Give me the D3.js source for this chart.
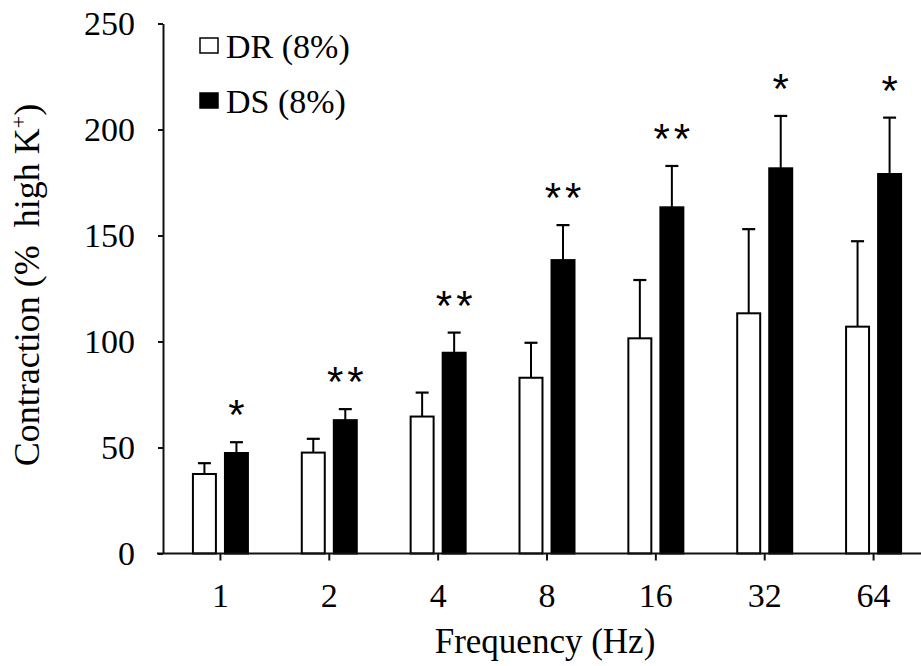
<!DOCTYPE html>
<html>
<head>
<meta charset="utf-8">
<script src="https://cdn.jsdelivr.net/npm/d3@7"></script>
<style>
  body { margin: 0; background: #fff; }
  svg { display: block; }
</style>
</head>
<body>
<svg id="chart" width="921" height="666"></svg>
<script>
const categories = ['1', '2', '4', '8', '16', '32', '64'];
const series = ['DR (8%)', 'DS (8%)'];
const drMean = [37.5, 47.6, 64.6, 82.9, 101.5, 113.3, 107];
const drErr = [5.1, 6.5, 11.3, 16.5, 27.5, 39.7, 40.3];
const dsMean = [47.4, 62.9, 94.7, 138.4, 163.3, 181.7, 179];
const dsErr = [5.1, 5.2, 9.5, 16.5, 19.5, 24.7, 26.6];
const marks = ['*', '**', '**', '**', '**', '*', '*'];
const yTicks = [0, 50, 100, 150, 200, 250];

const width = 921, height = 666;
const margin = { top: 23.5, left: 163, bottom: 112.5 };
const serif = 'Liberation Serif, Times New Roman, serif';

const svg = d3.select('#chart');

const x = d3.scaleBand()
    .domain(categories)
    .range([166, 928])
    .padding(0);

const xSub = d3.scaleBand()
    .domain(series)
    .range([-28.5, 28.5])
    .paddingInner(0.22);

const y = d3.scaleLinear()
    .domain([0, 250])
    .range([height - margin.bottom, margin.top]);

const rows = categories.map((c, i) => ({
    cat: c,
    bars: [
        { key: series[0], mean: drMean[i], err: drErr[i], fill: '#fff' },
        { key: series[1], mean: dsMean[i], err: dsErr[i], fill: '#000' }
    ],
    mark: marks[i]
}));

// error bars first so bar outline sits on top
const groups = svg.append('g')
    .selectAll('g')
    .data(rows)
    .join('g')
    .attr('transform', d => `translate(${x(d.cat) + x.bandwidth() / 2},0)`);

groups.selectAll('g.err')
    .data(d => d.bars)
    .join('g')
    .attr('class', 'err')
    .each(function (b) {
        const cx = xSub(b.key) + xSub.bandwidth() / 2;
        const g = d3.select(this);
        g.append('line')
            .attr('x1', cx).attr('x2', cx)
            .attr('y1', y(b.mean)).attr('y2', y(b.mean + b.err))
            .attr('stroke', '#000').attr('stroke-width', 2);
        g.append('line')
            .attr('x1', cx - 6.5).attr('x2', cx + 6.5)
            .attr('y1', y(b.mean + b.err)).attr('y2', y(b.mean + b.err))
            .attr('stroke', '#000').attr('stroke-width', 2.2);
    });

groups.selectAll('rect')
    .data(d => d.bars)
    .join('rect')
    .attr('x', b => xSub(b.key) + 1)
    .attr('width', xSub.bandwidth() - 2)
    .attr('y', b => y(b.mean))
    .attr('height', b => y(0) - y(b.mean))
    .attr('fill', b => b.fill)
    .attr('stroke', '#000')
    .attr('stroke-width', 2);

// significance marks over the DS bars
groups.append('text')
    .attr('x', d => xSub(series[1]) + xSub.bandwidth() / 2 + 2)
    .attr('y', d => y(d.bars[1].mean + d.bars[1].err) - 13)
    .attr('text-anchor', 'middle')
    .attr('font-family', 'Liberation Sans, Arial, sans-serif')
    .attr('font-size', 42)
    .attr('letter-spacing', 4)
    .text(d => d.mark);

// y axis
const yAxis = svg.append('g')
    .attr('transform', `translate(${margin.left},0)`)
    .call(d3.axisLeft(y).tickValues(yTicks).tickSize(5).tickSizeOuter(0).tickPadding(23));
yAxis.select('.domain').attr('stroke', '#111').attr('stroke-width', 2);
yAxis.selectAll('.tick line').attr('stroke', '#111').attr('stroke-width', 2);
yAxis.selectAll('text')
    .attr('font-family', serif)
    .attr('font-size', 34)
    .attr('fill', '#000');

// x axis
const xAxis = svg.append('g')
    .attr('transform', `translate(0,${y(0)})`)
    .call(d3.axisBottom(x).tickSize(7).tickPadding(22));
xAxis.select('.domain').remove();
xAxis.append('line')
    .attr('x1', margin.left - 6).attr('x2', width)
    .attr('stroke', '#111').attr('stroke-width', 2);
xAxis.selectAll('.tick line').attr('stroke', '#111').attr('stroke-width', 2);
xAxis.selectAll('text')
    .attr('font-family', serif)
    .attr('font-size', 34)
    .attr('fill', '#000');

// axis titles
svg.append('text')
    .attr('x', 545)
    .attr('y', 653)
    .attr('text-anchor', 'middle')
    .attr('font-family', serif)
    .attr('font-size', 35)
    .text('Frequency (Hz)');

const yTitle = svg.append('text')
    .attr('transform', 'translate(39,285) rotate(-90)')
    .attr('text-anchor', 'middle')
    .attr('font-family', serif)
    .attr('font-size', 36);
yTitle.append('tspan').text('Contraction (%\u00a0 high K');
yTitle.append('tspan').attr('font-size', 22).attr('dy', -13).text('+');
yTitle.append('tspan').attr('dy', 13).text(')');

// legend
const legend = svg.append('g')
    .selectAll('g')
    .data(series)
    .join('g')
    .attr('transform', (d, i) => `translate(200,${38 + i * 55})`);
legend.append('rect')
    .attr('width', 18).attr('height', 15)
    .attr('fill', (d, i) => i === 0 ? '#fff' : '#000')
    .attr('stroke', '#000').attr('stroke-width', 1.5);
legend.append('text')
    .attr('x', 26)
    .attr('y', 20)
    .attr('font-family', serif)
    .attr('font-size', 34)
    .text(d => d);
</script>
</body>
</html>
